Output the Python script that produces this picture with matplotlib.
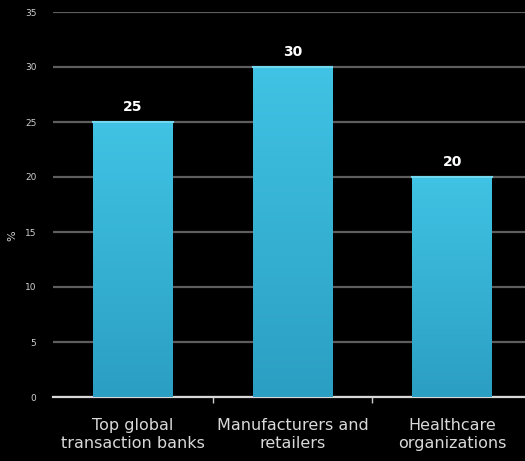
import numpy as np
import matplotlib.pyplot as plt
from matplotlib.colors import LinearSegmentedColormap

categories = ["Top global\ntransaction banks", "Manufacturers and\nretailers", "Healthcare\norganizations"]
values = [25, 30, 20]
y_ticks = [0, 5, 10, 15, 20, 25, 30, 35]

BAR_WIDTH = 0.5
grad = LinearSegmentedColormap.from_list("bar_grad", ["#2b9fc3", "#40c3e4"])

fig = plt.figure(figsize=(5.25, 4.61), dpi=100, facecolor="black")
ax = fig.add_axes([53 / 525, 64 / 461, 479 / 525, 385 / 461], facecolor="black")

x = np.arange(len(categories))
bars = ax.bar(x, values, width=BAR_WIDTH, color="none", zorder=3)

# vertical gradient fill, clipped to each bar
ramp = np.linspace(0, 1, 256).reshape(-1, 1)
for rect in bars:
    x0, w, h = rect.get_x(), rect.get_width(), rect.get_height()
    img = ax.imshow(ramp, cmap=grad, origin="lower", aspect="auto",
                    extent=[x0, x0 + w, 0, h], zorder=3)
    img.set_clip_path(rect)
    ax.plot([x0, x0 + w], [h, h], color="#72d8f0", lw=1.5, zorder=4)

for xi, v in zip(x, values):
    ax.text(xi, v + 0.7, f"{v}", ha="center", va="bottom", color="white",
            fontsize=10, fontweight="bold")

ax.set_xlim(-0.5, 2.5)
ax.set_ylim(0, 35)
ax.set_yticks(y_ticks)
ax.yaxis.grid(True, color="#5e5e5e", lw=1.6, zorder=0)
ax.set_axisbelow(True)

ax.set_xticks([0.5, 1.5])
ax.set_xticklabels([])
ax.tick_params(axis="x", length=4, color="#cccccc", width=1)
for xi, lab in zip(x, categories):
    ax.text(xi, -1.9, lab, ha="center", va="top", color="#d9d9d9",
            fontsize=11.5, linespacing=1.25)

ax.tick_params(axis="y", length=0, labelsize=6.5, labelcolor="#d0d0d0", pad=12)
ax.set_ylabel("%", color="#d0d0d0", fontsize=8)
ax.yaxis.set_label_coords(-0.075, 0.42)

for side in ["top", "right", "left"]:
    ax.spines[side].set_visible(False)
ax.spines["bottom"].set_color("#d8d8d8")
ax.spines["bottom"].set_linewidth(1.6)

fig.savefig("out.png", dpi=100, facecolor="black")
